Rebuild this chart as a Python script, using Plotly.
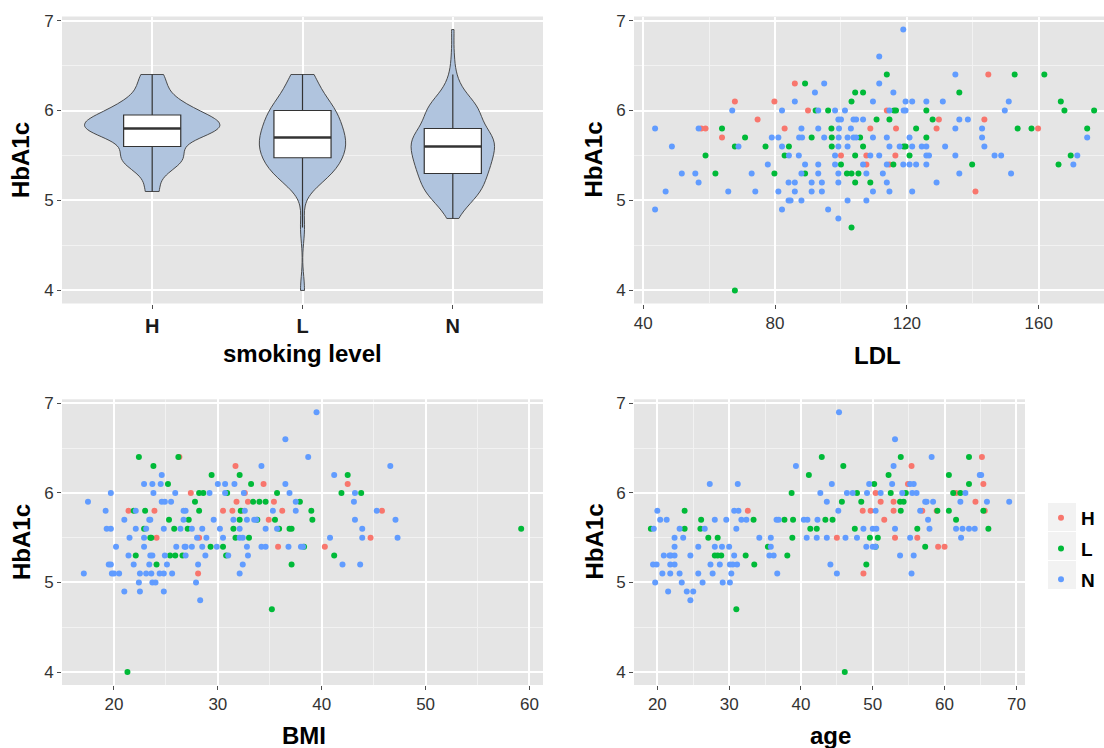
import numpy as np
import plotly.graph_objects as go

W, H = 1104, 748

GROUPS = ["H", "L", "N"]
GROUP_COLORS = ["#F8766D", "#00BA38", "#619CFF"]

# ---------------- HbA1c vs LDL ----------------
LDL_H = [144.7,
         86.0,
         67.8, 79.8,
         90.0, 113.9,
         74.7, 129.7, 143.5,
         57.6, 58.9, 82.9, 108.9, 116.7, 129.0, 159.8,
         63.9,
         100.0, 107.7, 116.5,
         107.7, 114.7,
         140.8]
LDL_H_A1C = [6.4,
             6.3,
             6.1, 6.1,
             6.0, 6.0,
             5.9, 5.9, 5.9,
             5.8, 5.8, 5.8, 5.8, 5.8, 5.8, 5.8,
             5.7,
             5.5, 5.5, 5.5,
             5.4, 5.4,
             5.1]

LDL_L = [113.9, 152.7, 161.7,
         89.1,
         104.3, 106.7, 135.9,
         103.2, 166.7,
         92.3, 96.1, 116.1, 116.7, 125.9, 167.8, 176.8,
         110.8, 114.7, 127.8,
         63.9, 97.1, 122.8, 153.6, 157.8, 174.7,
         70.9, 91.1, 97.2, 105.8, 125.9,
         67.8, 77.1, 84.2, 97.2, 106.7, 119.0, 119.6,
         58.9, 82.9, 104.3, 120.8, 169.7,
         100.0, 115.9, 139.8, 166.0,
         61.9, 79.8, 89.1, 101.8, 103.2, 105.3,
         104.3, 108.9,
         103.2,
         67.8]
LDL_L_A1C = [6.4, 6.4, 6.4,
             6.3,
             6.2, 6.2, 6.2,
             6.1, 6.1,
             6.0, 6.0, 6.0, 6.0, 6.0, 6.0, 6.0,
             5.9, 5.9, 5.9,
             5.8, 5.8, 5.8, 5.8, 5.8, 5.8,
             5.7, 5.7, 5.7, 5.7, 5.7,
             5.6, 5.6, 5.6, 5.6, 5.6, 5.6, 5.6,
             5.5, 5.5, 5.5, 5.5, 5.5,
             5.4, 5.4, 5.4, 5.4,
             5.3, 5.3, 5.3, 5.3, 5.3, 5.3,
             5.2, 5.2,
             4.7,
             4.0]

LDL_N = [118.9,
         111.6,
         134.7,
         94.9, 111.6,
         92.1, 115.9,
         86.0, 109.7, 119.6, 121.6, 125.9, 130.9, 150.9,
         67.0, 82.1, 93.1, 98.2, 101.2, 114.7, 119.0, 119.6, 149.7,
         99.2, 100.0, 103.8, 104.6, 106.7, 135.9, 138.5,
         43.6, 56.8, 88.0, 93.1, 99.4, 103.0, 134.7, 142.8,
         79.0, 81.0, 87.3, 88.2, 94.9, 99.3, 102.0, 103.8, 104.6, 109.7, 113.9, 120.8, 142.8, 174.7,
         48.7, 68.9, 82.1, 99.2, 102.0, 114.7, 117.8, 121.6, 124.5, 125.9, 131.6, 143.5,
         84.2, 87.2, 98.2, 108.9, 111.6, 125.9, 126.7, 134.7, 146.6, 148.6, 171.7,
         77.8, 89.1, 93.1, 98.2, 106.7, 113.9, 118.9, 120.8, 122.8, 125.9, 170.5,
         51.7, 55.8, 72.9, 88.0, 93.1, 99.2, 107.7, 112.7, 135.9, 151.6,
         56.8, 84.1, 86.0, 91.1, 94.2, 99.2, 113.9, 129.0,
         46.8, 65.8, 74.0, 81.0, 86.0, 91.1, 94.2, 109.7, 114.7, 121.6,
         84.1, 84.7, 88.0, 102.0, 107.7,
         43.6, 82.1, 96.1,
         99.2]
LDL_N_A1C = [6.9,
             6.6,
             6.4,
             6.3, 6.3,
             6.2, 6.2,
             6.1, 6.1, 6.1, 6.1, 6.1, 6.1, 6.1,
             6.0, 6.0, 6.0, 6.0, 6.0, 6.0, 6.0, 6.0, 6.0,
             5.9, 5.9, 5.9, 5.9, 5.9, 5.9, 5.9,
             5.8, 5.8, 5.8, 5.8, 5.8, 5.8, 5.8, 5.8,
             5.7, 5.7, 5.7, 5.7, 5.7, 5.7, 5.7, 5.7, 5.7, 5.7, 5.7, 5.7, 5.7, 5.7,
             5.6, 5.6, 5.6, 5.6, 5.6, 5.6, 5.6, 5.6, 5.6, 5.6, 5.6, 5.6,
             5.5, 5.5, 5.5, 5.5, 5.5, 5.5, 5.5, 5.5, 5.5, 5.5, 5.5,
             5.4, 5.4, 5.4, 5.4, 5.4, 5.4, 5.4, 5.4, 5.4, 5.4, 5.4,
             5.3, 5.3, 5.3, 5.3, 5.3, 5.3, 5.3, 5.3, 5.3, 5.3,
             5.2, 5.2, 5.2, 5.2, 5.2, 5.2, 5.2, 5.2,
             5.1, 5.1, 5.1, 5.1, 5.1, 5.1, 5.1, 5.1, 5.1, 5.1,
             5.0, 5.0, 5.0, 5.0, 5.0,
             4.9, 4.9, 4.9,
             4.8]

# ---------------- HbA1c vs BMI ----------------
BMI_H = [26.3,
         31.7,
         34.4, 42.5,
         27.4, 32.6,
         31.8, 32.9, 35.4,
         21.4, 23.9, 30.5, 31.4, 32.3, 36.2, 45.8,
         34.9,
         24.1, 28.2, 44.7,
         35.8, 40.3,
         28.1]
BMI_H_A1C = [6.4,
             6.3,
             6.1, 6.1,
             6.0, 6.0,
             5.9, 5.9, 5.9,
             5.8, 5.8, 5.8, 5.8, 5.8, 5.8, 5.8,
             5.7,
             5.5, 5.5, 5.5,
             5.4, 5.4,
             5.1]

BMI_L = [22.4, 26.2,
         23.8,
         29.4, 32.1, 42.5,
         25.2, 33.2,
         28.2, 28.6, 30.9, 35.7, 41.9, 43.8,
         27.8, 33.4, 34.0, 34.6, 37.9,
         21.9, 23.0, 28.2, 32.2, 39.0,
         25.3, 27.2, 32.1, 33.8, 35.5, 39.1,
         22.9, 25.8, 27.1, 31.5, 35.9, 36.9, 37.1, 59.2,
         23.5, 23.6, 31.7, 33.0,
         29.3, 30.5, 38.3,
         22.1, 25.4, 25.9, 26.6, 30.8, 41.2,
         24.1, 37.1,
         35.2,
         21.3]
BMI_L_A1C = [6.4, 6.4,
             6.3,
             6.2, 6.2, 6.2,
             6.1, 6.1,
             6.0, 6.0, 6.0, 6.0, 6.0, 6.0,
             5.9, 5.9, 5.9, 5.9, 5.9,
             5.8, 5.8, 5.8, 5.8, 5.8,
             5.7, 5.7, 5.7, 5.7, 5.7, 5.7,
             5.6, 5.6, 5.6, 5.6, 5.6, 5.6, 5.6, 5.6,
             5.5, 5.5, 5.5, 5.5,
             5.4, 5.4, 5.4,
             5.3, 5.3, 5.3, 5.3, 5.3, 5.3,
             5.2, 5.2,
             4.7,
             4.0]

BMI_N = [39.5,
         36.5,
         38.7,
         34.2, 46.6,
         24.6, 41.2,
         22.9, 23.7, 24.5, 30.0, 30.7, 31.6, 36.5,
         19.7, 23.8, 25.9, 29.2, 30.7, 32.5, 36.9, 43.2,
         17.5, 24.6, 24.9, 25.5, 37.5, 43.1,
         19.2, 22.1, 26.7, 26.9, 32.6, 35.3, 37.5, 45.3,
         21.0, 23.4, 23.5, 26.7, 29.6, 31.5, 32.8, 33.5, 33.7, 43.2, 47.1,
         19.3, 19.7, 22.1, 23.1, 24.8, 26.4, 27.5, 28.5, 30.2, 32.1, 34.6, 35.7, 43.9,
         21.5, 22.9, 28.0, 28.9, 30.5, 32.1, 32.4, 40.8, 43.9, 47.3,
         20.2, 22.9, 26.0, 26.8, 26.9, 27.5, 28.5, 29.9, 32.8, 34.2, 34.6, 36.8, 38.0, 38.2,
         21.4, 23.5, 23.7, 24.9, 26.9, 28.8, 31.0, 32.9,
         19.5, 19.7, 21.9, 23.4, 25.1, 28.1, 32.4, 42.0, 43.7,
         17.1, 19.8, 20.0, 20.5, 22.5, 23.1, 23.6, 24.4, 24.8, 25.6, 32.1,
         22.4, 23.7, 24.0, 27.9,
         21.0, 22.5, 24.8,
         28.3]
BMI_N_A1C = [6.9,
             6.6,
             6.4,
             6.3, 6.3,
             6.2, 6.2,
             6.1, 6.1, 6.1, 6.1, 6.1, 6.1, 6.1,
             6.0, 6.0, 6.0, 6.0, 6.0, 6.0, 6.0, 6.0,
             5.9, 5.9, 5.9, 5.9, 5.9, 5.9,
             5.8, 5.8, 5.8, 5.8, 5.8, 5.8, 5.8, 5.8,
             5.7, 5.7, 5.7, 5.7, 5.7, 5.7, 5.7, 5.7, 5.7, 5.7, 5.7,
             5.6, 5.6, 5.6, 5.6, 5.6, 5.6, 5.6, 5.6, 5.6, 5.6, 5.6, 5.6, 5.6,
             5.5, 5.5, 5.5, 5.5, 5.5, 5.5, 5.5, 5.5, 5.5, 5.5,
             5.4, 5.4, 5.4, 5.4, 5.4, 5.4, 5.4, 5.4, 5.4, 5.4, 5.4, 5.4, 5.4, 5.4,
             5.3, 5.3, 5.3, 5.3, 5.3, 5.3, 5.3, 5.3,
             5.2, 5.2, 5.2, 5.2, 5.2, 5.2, 5.2, 5.2, 5.2,
             5.1, 5.1, 5.1, 5.1, 5.1, 5.1, 5.1, 5.1, 5.1, 5.1, 5.1,
             5.0, 5.0, 5.0, 5.0,
             4.9, 4.9, 4.9,
             4.8]

# ---------------- HbA1c vs age ----------------
AGE_H = [65.2,
         55.4,
         54.9, 65.4,
         50.4, 61.6,
         51.1, 52.9, 64.3,
         32.6, 48.6, 49.7, 52.9, 56.9, 58.9, 65.6,
         51.6,
         45.0, 53.1, 56.2,
         59.1, 60.0,
         48.7]
AGE_H_A1C = [6.4,
             6.3,
             6.1, 6.1,
             6.0, 6.0,
             5.9, 5.9, 5.9,
             5.8, 5.8, 5.8, 5.8, 5.8, 5.8, 5.8,
             5.7,
             5.5, 5.5, 5.5,
             5.4, 5.4,
             5.1]

AGE_L = [42.9, 53.9, 63.4,
         45.9,
         41.1, 52.2, 60.6,
         50.2, 63.4,
         38.7, 47.8, 52.5, 54.6, 61.2, 62.2,
         45.7, 48.4, 53.8, 54.3,
         23.8, 53.9, 59.0, 60.6, 65.4,
         26.1, 33.4, 37.7, 38.9, 43.4, 44.4, 61.6,
         19.1, 23.8, 26.0, 41.3, 42.2, 47.5, 56.2, 66.1,
         27.1, 28.4, 38.8, 49.6, 50.7,
         35.4, 50.4, 57.3,
         28.0, 28.4, 28.9, 32.3, 38.1,
         33.5, 49.1,
         31.0,
         46.1]
AGE_L_A1C = [6.4, 6.4, 6.4,
             6.3,
             6.2, 6.2, 6.2,
             6.1, 6.1,
             6.0, 6.0, 6.0, 6.0, 6.0, 6.0,
             5.9, 5.9, 5.9, 5.9,
             5.8, 5.8, 5.8, 5.8, 5.8,
             5.7, 5.7, 5.7, 5.7, 5.7, 5.7, 5.7,
             5.6, 5.6, 5.6, 5.6, 5.6, 5.6, 5.6, 5.6,
             5.5, 5.5, 5.5, 5.5, 5.5,
             5.4, 5.4, 5.4,
             5.3, 5.3, 5.3, 5.3, 5.3,
             5.2, 5.2,
             4.7,
             4.0]

AGE_N = [45.3,
         53.1,
         58.2,
         39.3, 52.9,
         64.9, 65.1,
         27.3, 31.2, 44.3, 49.5, 52.7, 55.2, 55.7,
         42.7, 46.4, 47.2, 49.2, 51.1, 54.1, 55.5, 56.1, 62.9,
         43.6, 57.3, 57.5, 58.4, 62.2, 65.9, 69.0,
         20.0, 30.7, 31.3, 45.2, 50.4, 56.6,
         20.4, 21.3, 28.0, 29.6, 31.7, 32.4, 36.6, 36.9, 40.4, 40.9, 42.3, 57.7,
         19.5, 23.1, 26.6, 31.0, 48.7, 50.0, 50.5, 53.1, 57.9, 61.6, 62.5, 63.4, 64.2,
         22.4, 23.6, 34.2, 35.8, 40.8, 42.2, 43.6, 46.2, 47.8, 55.2, 62.3,
         22.4, 25.7, 28.0, 29.0, 30.0, 35.8, 49.1, 50.0, 50.4,
         20.9, 21.7, 21.9, 22.4, 24.6, 30.7, 35.6, 36.2, 53.8, 55.7,
         19.4, 19.9, 21.8, 22.4, 27.4, 28.7, 30.1, 30.5, 31.1, 44.1,
         20.7, 21.8, 23.1, 25.7, 27.7, 30.3, 36.7, 45.0, 55.4,
         19.7, 23.4, 26.3, 29.1, 30.1,
         21.5, 24.1, 25.0,
         24.6]
AGE_N_A1C = [6.9,
             6.6,
             6.4,
             6.3, 6.3,
             6.2, 6.2,
             6.1, 6.1, 6.1, 6.1, 6.1, 6.1, 6.1,
             6.0, 6.0, 6.0, 6.0, 6.0, 6.0, 6.0, 6.0, 6.0,
             5.9, 5.9, 5.9, 5.9, 5.9, 5.9, 5.9,
             5.8, 5.8, 5.8, 5.8, 5.8, 5.8,
             5.7, 5.7, 5.7, 5.7, 5.7, 5.7, 5.7, 5.7, 5.7, 5.7, 5.7, 5.7,
             5.6, 5.6, 5.6, 5.6, 5.6, 5.6, 5.6, 5.6, 5.6, 5.6, 5.6, 5.6, 5.6,
             5.5, 5.5, 5.5, 5.5, 5.5, 5.5, 5.5, 5.5, 5.5, 5.5, 5.5,
             5.4, 5.4, 5.4, 5.4, 5.4, 5.4, 5.4, 5.4, 5.4,
             5.3, 5.3, 5.3, 5.3, 5.3, 5.3, 5.3, 5.3, 5.3, 5.3,
             5.2, 5.2, 5.2, 5.2, 5.2, 5.2, 5.2, 5.2, 5.2, 5.2,
             5.1, 5.1, 5.1, 5.1, 5.1, 5.1, 5.1, 5.1, 5.1,
             5.0, 5.0, 5.0, 5.0, 5.0,
             4.9, 4.9, 4.9,
             4.8]

# axis breaks
A1C_TICKS = [4, 5, 6, 7]
LDL_TICKS = [40, 80, 120, 160]
BMI_TICKS = [20, 30, 40, 50, 60]
AGE_TICKS = [20, 30, 40, 50, 60, 70]

for xs, ys in [(LDL_H, LDL_H_A1C), (LDL_L, LDL_L_A1C), (LDL_N, LDL_N_A1C),
               (BMI_H, BMI_H_A1C), (BMI_L, BMI_L_A1C), (BMI_N, BMI_N_A1C),
               (AGE_H, AGE_H_A1C), (AGE_L, AGE_L_A1C), (AGE_N, AGE_N_A1C)]:
    assert len(xs) == len(ys)

FONT = "Liberation Sans, Arial, sans-serif"
PANEL_BG = "#E5E5E5"
INK = "#333333"


def px_x(p):
    return p / W


def px_y(p):
    return 1 - p / H


def minor_breaks(ticks):
    step = ticks[1] - ticks[0]
    return [ticks[0] - step / 2] + [t + step / 2 for t in ticks]


def axis(ticks, rng, domain, anchor, tickfont=None, ticktext=None, minor=True):
    ax = dict(
        domain=domain, anchor=anchor, range=rng, tickmode="array", tickvals=ticks,
        showgrid=True, gridcolor="white", gridwidth=1.5, zeroline=False, showline=False,
        ticks="outside", ticklen=4, tickwidth=1, tickcolor="#4D4D4D",
        tickfont=tickfont or dict(family=FONT, size=17, color=INK),
        automargin=False, fixedrange=True,
    )
    if ticktext is not None:
        ax["ticktext"] = ticktext
    if minor:
        ax["minor"] = dict(tickmode="array", tickvals=minor_breaks(ticks), showgrid=True,
                           gridcolor="#F2F2F2", gridwidth=0.7, ticks="")
    return ax


# panel rectangles (pixels)
LEFT_X = [px_x(62), px_x(543)]
RIGHT_X_TOP = [px_x(634), 1.0]
RIGHT_X_BOT = [px_x(634), px_x(1025)]
TOP_Y = [px_y(303.5), px_y(16.5)]
BOT_Y = [px_y(685), px_y(399.3)]
A1C_RANGE = [3.855, 7.045]

fig = go.Figure()

# ---- violin + box of HbA1c by smoking level ----
violin_data = [LDL_H_A1C, LDL_L_A1C, LDL_N_A1C]


def bw_nrd0(v):
    v = np.asarray(v, float)
    q75, q25 = np.percentile(v, [75, 25])
    return 0.9 * min(v.std(ddof=1), (q75 - q25) / 1.34) * len(v) ** -0.2


def kde_peak(v, bw):
    v = np.asarray(v, float)
    grid = np.linspace(v.min(), v.max(), 512)
    z = (grid[:, None] - v[None, :]) / bw
    dens = np.exp(-0.5 * z ** 2).sum(axis=1) / (len(v) * bw * np.sqrt(2 * np.pi))
    return dens.max()


bws = [bw_nrd0(v) for v in violin_data]
peaks = [kde_peak(v, b) for v, b in zip(violin_data, bws)]
BOX_W = 0.38

for i, (v, bw, pk) in enumerate(zip(violin_data, bws, peaks)):
    fig.add_trace(go.Violin(
        y=v, x0=i, width=0.9 * pk / max(peaks), bandwidth=bw, spanmode="hard",
        scalemode="width", points=False, fillcolor="#B0C4DE",
        line=dict(color="#3A3A3A", width=0.9), box_visible=False, meanline_visible=False,
        xaxis="x", yaxis="y", showlegend=False, hoverinfo="skip", name=GROUPS[i],
    ))
    arr = np.asarray(v, float)
    q1, med, q3 = np.percentile(arr, [25, 50, 75])
    iqr = q3 - q1
    lf = arr[arr >= q1 - 1.5 * iqr].min()
    uf = arr[arr <= q3 + 1.5 * iqr].max()
    fig.add_trace(go.Box(
        x=[i], q1=[q1], median=[med], q3=[q3], lowerfence=[lf], upperfence=[uf],
        width=BOX_W, fillcolor="white", line=dict(color=INK, width=1.2), whiskerwidth=0,
        boxpoints=False, xaxis="x", yaxis="y", showlegend=False, hoverinfo="skip",
    ))
    fig.add_trace(go.Scatter(
        x=[i - BOX_W / 2, i + BOX_W / 2], y=[med, med], mode="lines",
        line=dict(color=INK, width=2.6), xaxis="x", yaxis="y",
        showlegend=False, hoverinfo="skip",
    ))

# ---- scatter panels ----
panels = [
    ("x2", "y2", [(LDL_H, LDL_H_A1C), (LDL_L, LDL_L_A1C), (LDL_N, LDL_N_A1C)], False),
    ("x3", "y3", [(BMI_H, BMI_H_A1C), (BMI_L, BMI_L_A1C), (BMI_N, BMI_N_A1C)], False),
    ("x4", "y4", [(AGE_H, AGE_H_A1C), (AGE_L, AGE_L_A1C), (AGE_N, AGE_N_A1C)], True),
]
for xa, ya, series, legend in panels:
    for g, col, (xs, ys) in zip(GROUPS, GROUP_COLORS, series):
        fig.add_trace(go.Scatter(
            x=xs, y=ys, mode="markers", name=g, legendgroup=g, showlegend=legend,
            marker=dict(color=col, size=6, line=dict(width=0)),
            xaxis=xa, yaxis=ya, hoverinfo="skip",
        ))

cat_font = dict(family=FONT, size=20, color="#1A1A1A", weight="bold")

fig.update_layout(
    width=W, height=H, autosize=False,
    margin=dict(l=0, r=0, t=0, b=0),
    paper_bgcolor="white", plot_bgcolor=PANEL_BG,
    font=dict(family=FONT, color=INK),
    xaxis=axis([0, 1, 2], [-0.6, 2.6], LEFT_X, "y", tickfont=cat_font, ticktext=GROUPS, minor=False),
    yaxis=axis(A1C_TICKS, A1C_RANGE, TOP_Y, "x"),
    xaxis2=axis(LDL_TICKS, [37.2, 179.8], RIGHT_X_TOP, "y2"),
    yaxis2=axis(A1C_TICKS, A1C_RANGE, TOP_Y, "x2"),
    xaxis3=axis(BMI_TICKS, [15.0, 61.3], LEFT_X, "y3"),
    yaxis3=axis(A1C_TICKS, A1C_RANGE, BOT_Y, "x3"),
    xaxis4=axis(AGE_TICKS, [16.75, 71.2], RIGHT_X_BOT, "y4"),
    yaxis4=axis(A1C_TICKS, A1C_RANGE, BOT_Y, "x4"),
    showlegend=True,
    legend=dict(x=px_x(1041), y=px_y(499), xanchor="left", yanchor="top",
                bgcolor="rgba(0,0,0,0)", borderwidth=0, tracegroupgap=3,
                font=dict(family=FONT, size=19, color="black", weight="bold"),
                itemsizing="trace", itemclick=False, itemdoubleclick=False),
)

# legend key backgrounds
shapes = []
for k in range(len(GROUPS)):
    top = 503 + 29 * k
    shapes.append(dict(type="rect", xref="paper", yref="paper",
                       x0=px_x(1048), x1=px_x(1076), y0=px_y(top + 28), y1=px_y(top),
                       fillcolor="#F2F2F2", line=dict(width=0), layer="above"))
fig.update_layout(shapes=shapes)

# axis titles
title_font = dict(family=FONT, size=24, color="black")
titles = [
    ("<b>HbA1c</b>", 21, 160, -90),
    ("<b>HbA1c</b>", 593.5, 160, -90),
    ("<b>HbA1c</b>", 21, 542, -90),
    ("<b>HbA1c</b>", 593.5, 542, -90),
    ("<b>smoking level</b>", 302.5, 353, 0),
    ("<b>LDL</b>", 877, 355, 0),
    ("<b>BMI</b>", 304, 735, 0),
    ("<b>age</b>", 830, 735, 0),
]
for text, x, y, ang in titles:
    fig.add_annotation(text=text, x=px_x(x), y=px_y(y), xref="paper", yref="paper",
                       xanchor="center", yanchor="middle", showarrow=False,
                       textangle=ang, font=title_font)

fig.write_html("out.html")
